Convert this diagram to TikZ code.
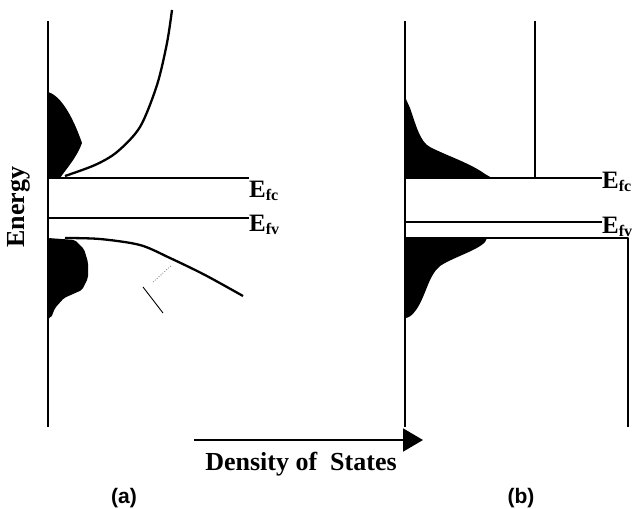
\documentclass[tikz,border=0pt]{standalone}
\usepackage{fontspec}
\setmainfont{Liberation Serif}
\newfontfamily\panelfont{Liberation Sans}
\usetikzlibrary{arrows.meta}
\newcommand{\efermi}[1]{\fontsize{25}{25}\selectfont\bfseries E\raisebox{-0.3ex}{\fontsize{16}{16}\selectfont #1}}

\begin{document}
\begin{tikzpicture}[x=1pt,y=-1pt,line join=round]
\useasboundingbox (0,0) rectangle (635,509);
% axes of both panels
\coordinate (a-top) at (48,21);
\coordinate (a-bot) at (48,427);
\coordinate (b-top) at (405,21);
\coordinate (b-bot) at (405,427);
\draw [line width=2pt] (a-top) -- (a-bot);
\draw [line width=2pt] (b-top) -- (b-bot);
% labels
\node [rotate=90,font=\fontsize{26}{26}\selectfont\bfseries] (energy) at (19,207) {Energy};
\node [anchor=base,font=\fontsize{26}{26}\selectfont\bfseries] (dos) at (301,470) {Density of\ \ States};
\node [font=\panelfont\fontsize{21}{21}\selectfont\bfseries] (a-lab) at (124,498) {(a)};
\node [font=\panelfont\fontsize{21}{21}\selectfont\bfseries] (b-lab) at (521,498) {(b)};
\coordinate (dos-start) at (194,440);
\coordinate (dos-end) at (423,440);
\draw [line width=2pt,-{Triangle[length=20pt,width=23pt]}] (dos-start) -- (dos-end);

% (a): band tails and parabolic bands
\node [anchor=base west,inner sep=0pt] (a-efc) at (249,197) {\efermi{fc}};
\node [anchor=base west,inner sep=0pt] (a-efv) at (249,231) {\efermi{fv}};
\draw [line width=2pt] (48,178) -- (a-efc.west |- 0,178);
\draw [line width=2pt] (48,218) -- (a-efv.west |- 0,218);
\fill (48,92) .. controls (62,96) and (74,120) .. (82,143)
   .. controls (77,157) and (67,168) .. (60,178) -- (48,178) -- cycle;
\fill [rounded corners=2pt] (48,238) -- (75,240) -- (84,249) -- (88,262) -- (88,278)
   -- (82,290) -- (64,298) -- (55,308) -- (51,318) -- (48,318) -- cycle;
\draw [line width=2.3pt] plot [smooth] coordinates
   {(65,176) (95,165) (117,152) (140,127) (157,85) (167,43) (172,10)};
\draw [line width=2.3pt] plot [smooth] coordinates
   {(65,238) (100,239) (140,245) (170,258) (205,275) (243,296)};
\draw [line width=0.9pt] (143,287) -- (163,313);
\draw [line width=0.6pt,dotted] (153,282) -- (172,265);

% (b): band tails and step-like bands
\node [anchor=base west,inner sep=0pt] (b-efc) at (602,188) {\efermi{fc}};
\node [anchor=base west,inner sep=0pt] (b-efv) at (602,233) {\efermi{fv}};
\draw [line width=2pt] (535,21) -- (535,178);
\draw [line width=2pt] (405,178) -- (b-efc.west |- 0,178);
\draw [line width=2pt] (405,222) -- (b-efv.west |- 0,222);
\draw [line width=2pt] (405,238) -- (628,238) -- (628,427);
\fill (405,97) -- (410,108) .. controls (416,125) and (420,142) .. (430,147)
   .. controls (445,155) and (470,163) .. (485,174) -- (492,178) -- (405,178) -- cycle;
\fill (405,238) -- (487,238) .. controls (486,248) and (455,256) .. (440,266)
   .. controls (428,276) and (426,296) .. (416,310) .. controls (412,316) and (408,318) .. (405,318) -- cycle;
\end{tikzpicture}
\end{document}
